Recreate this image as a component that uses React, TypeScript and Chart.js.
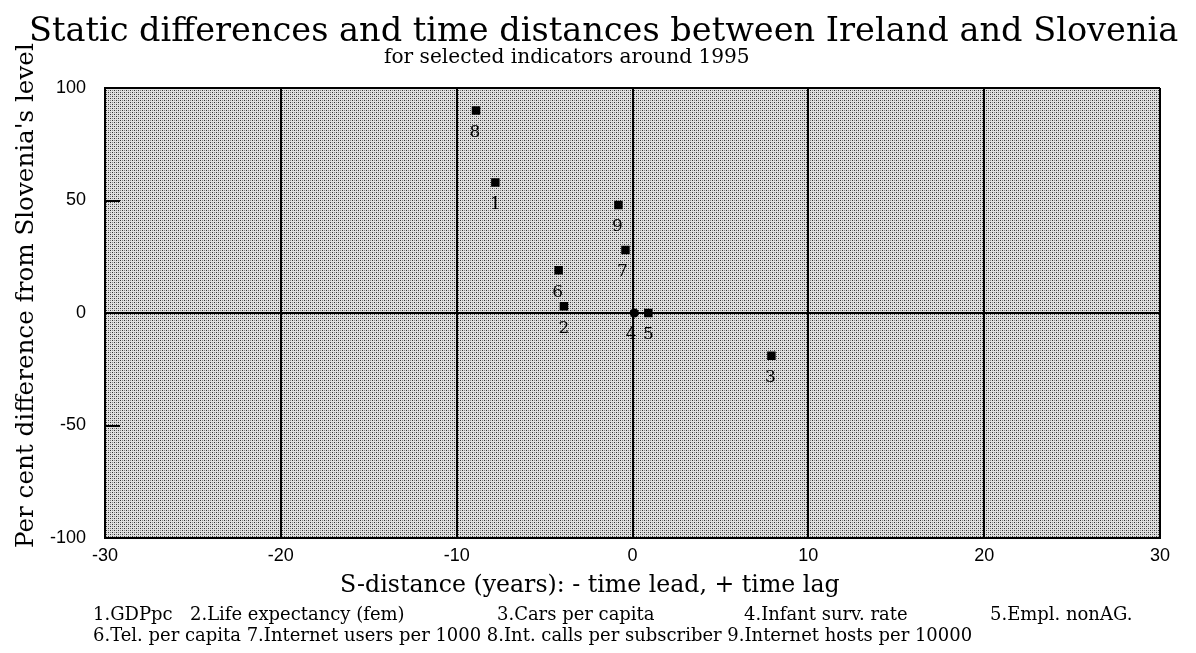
import React, { useEffect, useRef } from "react";
import { Chart, registerables } from "chart.js";

Chart.register(...registerables);

// ---- data ----
const indicatorIds = ["1", "2", "3", "4", "5", "6", "7", "8", "9"];
const sDistanceYears = [-7.8, -3.9, 7.9, 0.1, 0.9, -4.2, -0.4, -8.9, -0.8];
const percentDifference = [58, 3, -19, 0, 0, 19, 28, 90, 48];
const xTickValues = [-30, -20, -10, 0, 10, 20, 30];
const yTickValues = [-100, -50, 0, 50, 100];
const legendRow1 = [
  "1.GDPpc",
  "2.Life expectancy (fem)",
  "3.Cars per capita",
  "4.Infant surv. rate",
  "5.Empl. nonAG.",
];
const legendRow2 = [
  "6.Tel. per capita",
  "7.Internet users per 1000",
  "8.Int. calls per subscriber",
  "9.Internet hosts per 10000",
];
const titleText = "Static differences and time distances between Ireland and Slovenia";
const subtitleText = "for selected indicators around 1995";
const xTitleText = "S-distance (years): - time lead, + time lag";
const yTitleText = "Per cent difference from Slovenia's level";

// ---- styles / layout ----
const W = 1196;
const H = 653;
const AREA = { left: 105, top: 88, right: 1160, bottom: 538 };
const SERIF = "'DejaVu Serif', 'Liberation Serif', serif";
const SANS = "'Liberation Sans', Arial, sans-serif";
const pointShapes = ["rect", "rect", "rect", "circle", "rect", "rect", "rect", "rect", "rect"];
const pointSizes = [6, 6, 6, 4.6, 6, 6, 6, 6, 6];
const labelNudgeX = [0, 0, -1, -3, 0, -1, -3, -1, -1];
const legendRow1X = [93, 190, 497, 744, 990];

Chart.defaults.font.family = SANS;
Chart.defaults.font.size = 18;
Chart.defaults.color = "#000";

function makePattern(ctx: CanvasRenderingContext2D) {
  const c = document.createElement("canvas");
  c.width = 4;
  c.height = 4;
  const p = c.getContext("2d")!;
  p.fillStyle = "#e0e0e0";
  p.fillRect(0, 0, 4, 4);
  p.fillStyle = "#333333";
  p.fillRect(0, 0, 1, 1);
  p.fillRect(2, 2, 1, 1);
  p.fillStyle = "#888888";
  p.fillRect(2, 0, 1, 1);
  p.fillRect(0, 2, 1, 1);
  return ctx.createPattern(c, "repeat")!;
}

// font size at which text spans the given width
function fitSize(ctx: CanvasRenderingContext2D, text: string, width: number) {
  ctx.font = `100px ${SERIF}`;
  return (100 * width) / ctx.measureText(text).width;
}

const stipplePlugin = {
  id: "stipple",
  beforeDraw(chart: any) {
    const { ctx, chartArea: a } = chart;
    ctx.save();
    ctx.fillStyle = "#ffffff";
    ctx.fillRect(0, 0, chart.width, chart.height);
    ctx.fillStyle = makePattern(ctx);
    ctx.fillRect(a.left, a.top, a.right - a.left, a.bottom - a.top);
    ctx.restore();
  },
};

const tickMarkPlugin = {
  id: "innerTicks",
  beforeDatasetsDraw(chart: any) {
    const { ctx, chartArea: a, scales } = chart;
    ctx.save();
    ctx.strokeStyle = "#000";
    ctx.lineWidth = 2;
    [50, -50].forEach((v) => {
      const y = Math.round(scales.y.getPixelForValue(v));
      ctx.beginPath();
      ctx.moveTo(a.left, y);
      ctx.lineTo(a.left + 15, y);
      ctx.stroke();
    });
    ctx.restore();
  },
};

const pointLabelPlugin = {
  id: "pointLabels",
  afterDatasetsDraw(chart: any) {
    const { ctx } = chart;
    const meta = chart.getDatasetMeta(0);
    ctx.save();
    ctx.fillStyle = "#000";
    ctx.font = `17px ${SERIF}`;
    ctx.textAlign = "center";
    ctx.textBaseline = "middle";
    meta.data.forEach((el: any, i: number) => {
      ctx.fillText(indicatorIds[i], el.x + labelNudgeX[i], el.y + 22);
    });
    ctx.restore();
  },
};

const textPlugin = {
  id: "texts",
  afterDraw(chart: any) {
    const ctx: CanvasRenderingContext2D = chart.ctx;
    ctx.save();
    ctx.fillStyle = "#000";
    ctx.textBaseline = "alphabetic";
    ctx.textAlign = "left";

    let s = fitSize(ctx, titleText, 1150);
    ctx.font = `${s}px ${SERIF}`;
    ctx.fillText(titleText, 29, 41);

    s = fitSize(ctx, subtitleText, 366);
    ctx.font = `${s}px ${SERIF}`;
    ctx.fillText(subtitleText, 384, 63);

    s = fitSize(ctx, xTitleText, 500);
    ctx.font = `${s}px ${SERIF}`;
    ctx.fillText(xTitleText, 340, 592);

    const row2 = legendRow2.join(" ");
    s = fitSize(ctx, row2, 880);
    ctx.font = `${s}px ${SERIF}`;
    legendRow1.forEach((t, i) => ctx.fillText(t, legendRow1X[i], 620));
    ctx.fillText(row2, 93, 641);

    s = fitSize(ctx, yTitleText, 505);
    ctx.font = `${s}px ${SERIF}`;
    ctx.translate(33, 548);
    ctx.rotate(-Math.PI / 2);
    ctx.fillText(yTitleText, 0, 0);
    ctx.restore();
  },
};

export default function App() {
  const ref = useRef<HTMLCanvasElement>(null);

  useEffect(() => {
    const canvas = ref.current;
    if (!canvas) return;
    const chart = new Chart(canvas, {
      type: "scatter",
      data: {
        datasets: [
          {
            data: sDistanceYears.map((x, i) => ({ x, y: percentDifference[i] })),
            pointStyle: pointShapes as any,
            pointRadius: pointSizes,
            pointHoverRadius: pointSizes,
            backgroundColor: "#000",
            borderColor: "#000",
            borderWidth: 0,
          },
        ],
      },
      options: {
        animation: false,
        responsive: false,
        devicePixelRatio: 1,
        events: [],
        layout: { padding: { left: 0, top: AREA.top, right: W - AREA.right, bottom: 0 } },
        plugins: {
          legend: { display: false },
          tooltip: { enabled: false },
          title: { display: false },
        },
        scales: {
          x: {
            type: "linear",
            min: -30,
            max: 30,
            afterBuildTicks: (s: any) => {
              s.ticks = xTickValues.map((v) => ({ value: v }));
            },
            afterFit: (s: any) => {
              s.height = H - AREA.bottom;
            },
            grid: { color: "#000", lineWidth: 2, drawTicks: false },
            border: { display: true, color: "#000", width: 2 },
            ticks: { color: "#000", padding: 7, font: { family: SANS, size: 18 } },
          },
          y: {
            type: "linear",
            min: -100,
            max: 100,
            afterBuildTicks: (s: any) => {
              s.ticks = yTickValues.map((v) => ({ value: v }));
            },
            afterFit: (s: any) => {
              s.width = AREA.left;
            },
            grid: {
              color: (c: any) =>
                c.tick && (c.tick.value === 0 || c.tick.value === 100 || c.tick.value === -100)
                  ? "#000"
                  : "rgba(0,0,0,0)",
              lineWidth: 2,
              drawTicks: false,
            },
            border: { display: true, color: "#000", width: 2 },
            ticks: { color: "#000", padding: 19, font: { family: SANS, size: 18 } },
          },
        },
      },
      plugins: [stipplePlugin, tickMarkPlugin, pointLabelPlugin, textPlugin],
    });
    return () => chart.destroy();
  }, []);

  return (
    <div style={{ position: "absolute", left: 0, top: 0, width: W, height: H, background: "#fff" }}>
      <canvas ref={ref} width={W} height={H} style={{ width: W, height: H, display: "block" }} />
    </div>
  );
}
